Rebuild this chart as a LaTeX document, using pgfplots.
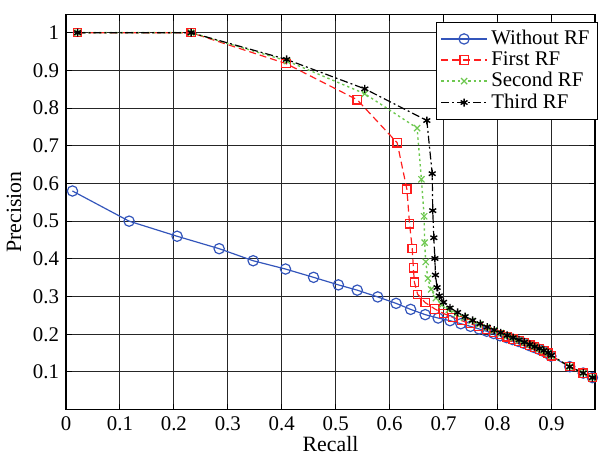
\documentclass[border=0pt]{standalone}
\usepackage{fontspec}
\setmainfont{Liberation Serif}
\usepackage{pgfplots}
\pgfplotsset{compat=1.18}

\definecolor{cblue}{RGB}{51,85,187}
\definecolor{cred}{RGB}{255,30,30}
\definecolor{cgreen}{RGB}{110,200,80}

\begin{document}
\begin{tikzpicture}
\begin{axis}[
  scale only axis,
  width=266.5pt, height=199pt,
  xmin=0, xmax=0.981,
  ymin=0, ymax=1.048,
  xtick={0,0.1,0.2,0.3,0.4,0.5,0.6,0.7,0.8,0.9},
  ytick={0.1,0.2,0.3,0.4,0.5,0.6,0.7,0.8,0.9,1},
  /pgf/number format/assume math mode=true,
  tick align=inside,
  major tick length=3pt,
  tick style={black, line width=0.5pt},
  grid=major,
  major grid style={black!85, line width=0.5pt, solid},
  axis line style={black, line width=0.7pt},
  ticklabel style={font=\fontsize{10.5}{12}\selectfont},
  label style={font=\fontsize{11}{13}\selectfont},
  xlabel={Recall},
  ylabel={Precision},
  xlabel style={yshift=4pt},
  ylabel style={yshift=-1pt},
  legend style={at={(1,0.982)}, xshift=1.5pt, anchor=north east, font=\fontsize{10.5}{11}\selectfont,
    draw=black, line width=0.6pt, inner xsep=2pt, inner ysep=2pt, row sep=-2pt,
    /tikz/every even column/.append style={column sep=2pt}},
  legend cell align=left,
  legend image code/.code={
    \draw[mark repeat=2,mark phase=2,#1] plot coordinates {(0cm,0cm) (0.4cm,0cm) (0.8cm,0cm)};
  },
]
\addplot[cblue, line width=0.6pt, mark=o, mark size=2.6pt, mark options={solid, line width=0.6pt}] coordinates {
 (0.012,0.580) (0.117,0.500) (0.206,0.460) (0.284,0.427) (0.347,0.395) (0.407,0.373)
 (0.459,0.351) (0.505,0.331) (0.540,0.317) (0.578,0.299) (0.612,0.282) (0.639,0.266)
 (0.666,0.252) (0.690,0.243) (0.712,0.236) (0.732,0.228) (0.750,0.221) (0.766,0.214)
 (0.780,0.208) (0.793,0.202) (0.805,0.196) (0.817,0.191) (0.828,0.186) (0.839,0.181)
 (0.849,0.176) (0.859,0.170) (0.868,0.165) (0.877,0.160) (0.885,0.155) (0.893,0.149)
 (0.899,0.142) (0.934,0.114) (0.959,0.097) (0.976,0.085)
};
\addlegendentry{Without RF}
\addplot[cred, line width=0.6pt, dash pattern=on 3.5pt off 2pt, mark=square, mark size=2.1pt, mark options={solid, line width=0.6pt}] coordinates {
 (0.0215,1) (0.232,1) (0.408,0.918) (0.540,0.822) (0.614,0.708) (0.632,0.585)
 (0.637,0.493) (0.642,0.427) (0.644,0.376) (0.646,0.338) (0.652,0.306) (0.666,0.284)
 (0.684,0.267) (0.700,0.255) (0.717,0.245) (0.734,0.236) (0.750,0.228) (0.765,0.220)
 (0.780,0.212) (0.793,0.205) (0.806,0.199) (0.818,0.193) (0.829,0.187) (0.840,0.182)
 (0.850,0.177) (0.860,0.171) (0.869,0.166) (0.878,0.161) (0.886,0.156) (0.894,0.150)
 (0.900,0.143) (0.934,0.114) (0.959,0.097) (0.976,0.085)
};
\addlegendentry{First RF}
\addplot[cgreen, line width=0.7pt, dash pattern=on 1.2pt off 1.5pt, mark=x, mark size=2.2pt, mark options={solid, line width=0.6pt}] coordinates {
 (0.0215,1) (0.232,1) (0.410,0.925) (0.554,0.838) (0.651,0.747) (0.659,0.611)
 (0.664,0.513) (0.665,0.443) (0.667,0.392) (0.671,0.348) (0.677,0.319) (0.686,0.296)
 (0.697,0.278) (0.710,0.265) (0.724,0.254) (0.738,0.244) (0.752,0.235) (0.766,0.226)
 (0.780,0.218) (0.793,0.210) (0.806,0.203) (0.818,0.196) (0.829,0.190) (0.840,0.184)
 (0.850,0.178) (0.860,0.172) (0.869,0.167) (0.878,0.161) (0.886,0.156) (0.894,0.150)
 (0.900,0.143) (0.934,0.114) (0.959,0.097) (0.976,0.085)
};
\addlegendentry{Second RF}
\addplot[black, line width=0.6pt, dash pattern=on 4pt off 1.5pt on 1pt off 1.5pt, mark=asterisk, mark size=2pt, mark options={solid, line width=0.7pt}] coordinates {
 (0.0215,1) (0.232,1) (0.409,0.929) (0.554,0.851) (0.669,0.767) (0.679,0.626)
 (0.680,0.528) (0.682,0.456) (0.684,0.401) (0.685,0.357) (0.688,0.324) (0.692,0.302)
 (0.700,0.285) (0.712,0.270) (0.726,0.258) (0.740,0.247) (0.754,0.237) (0.768,0.228)
 (0.781,0.219) (0.794,0.211) (0.806,0.204) (0.818,0.197) (0.829,0.191) (0.840,0.185)
 (0.850,0.179) (0.860,0.173) (0.869,0.167) (0.878,0.162) (0.886,0.157) (0.894,0.151)
 (0.900,0.144) (0.934,0.114) (0.959,0.097) (0.976,0.085)
};
\addlegendentry{Third RF}
\end{axis}
\path (current axis.outer north east) ++(3.5pt,7pt);
\path (current axis.outer south west) ++(0,-2pt);
\end{tikzpicture}
\end{document}
